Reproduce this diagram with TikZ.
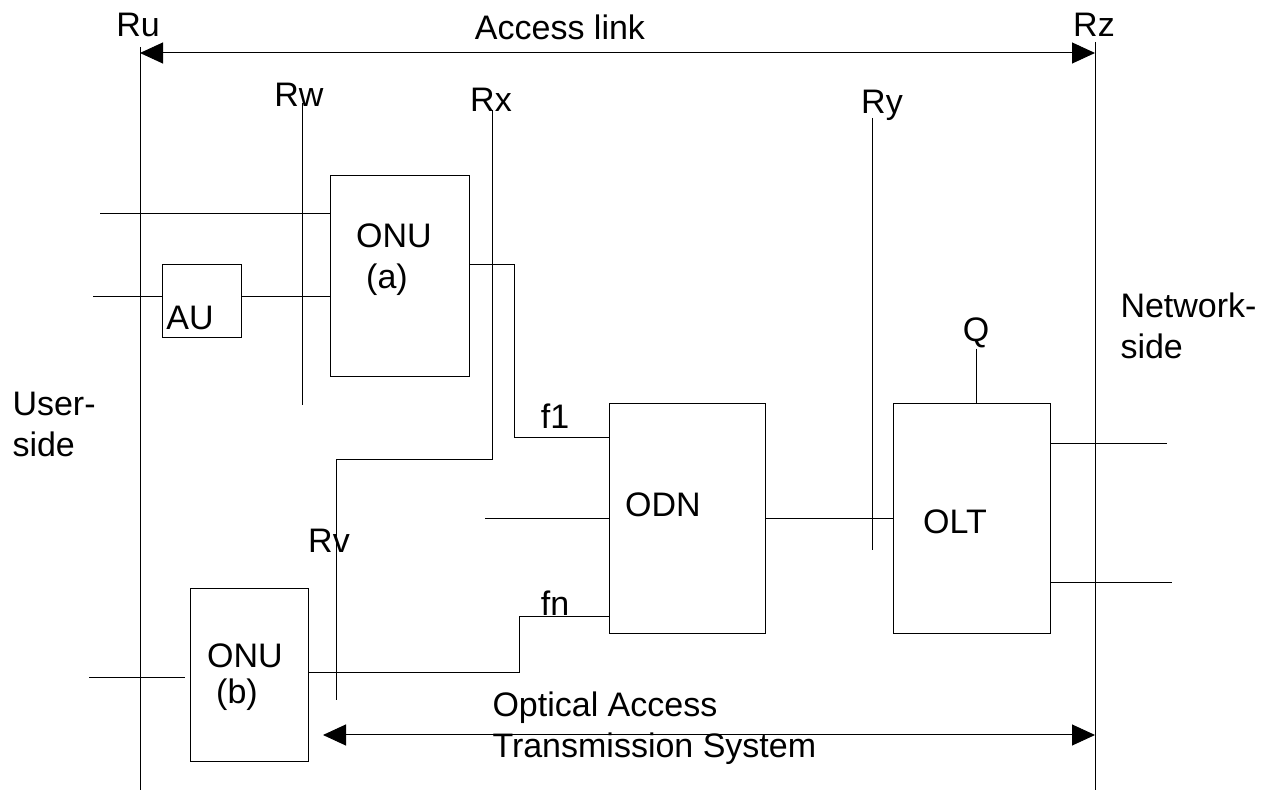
\documentclass[tikz,border=0pt]{standalone}
\usepackage{fontspec}
\setmainfont{Liberation Sans}
\usepackage{tikz}
\usetikzlibrary{arrows.meta,positioning,calc}

\begin{document}
\begin{tikzpicture}[x=0.5pt,y=-0.5pt,line width=0.5pt,
    blk/.style 2 args={draw,inner sep=0,minimum width=#1*0.5pt,minimum height=#2*0.5pt},
    lbl/.style={inner sep=0,font=\fontsize{17}{20.5}\selectfont},
    span/.style={arrows={Triangle[length=11.5pt,width=10.5pt]-Triangle[length=11.5pt,width=10.5pt]}}]
        \useasboundingbox (0,0) rectangle (1275,790);
        % blocks
        \node[blk={139}{201}] (onua) at (399.5,276.5) {};
        \node[blk={79}{73}] (au) at (201.5,301.5) {};
        \node[blk={156}{230}] (odn) at (687,519) {};
        \node[blk={157}{230}] (olt) at (971.5,519) {};
        \node[blk={118}{173}] (onub) at (249,675.5) {};
        \node[lbl] (onuatxt) at (394,236) {ONU};
        \node[lbl] (onuasub) at (387,280) {(a)};
        \node[lbl] (autxt) at (190,318) {AU};
        \node[lbl] (odntxt) at (663,505) {ODN};
        \node[lbl] (olttxt) at (955,522) {OLT};
        \node[lbl] (onubtxt) at (245,656) {ONU};
        \node[lbl] (onubsub) at (237,695) {(b)};
        % reference points
        \node[lbl] (ru) at (138,25) {Ru};
        \node[lbl] (rz) at (1094,25) {Rz};
        \node[lbl] (acclink) at (560,27) {Access link};
        \node[lbl] (rw) at (299,95) {Rw};
        \node[lbl] (rx) at (491,100) {Rx};
        \node[lbl] (ry) at (882,105) {Ry};
        \node[lbl] (rv) at (329,541) {Rv};
        \node[lbl] (q) at (976,333) {Q};
        \node[lbl] (f1) at (555,416) {f1};
        \node[lbl] (fn) at (555,603) {fn};
        \node[lbl,align=left,anchor=west] (netside) at (1120,326) {Network-\\side};
        \node[lbl,align=left,anchor=west] (userside) at (12,424) {User-\\side};
        \node[lbl,align=left,anchor=west] (oats) at (492,728) {Optical Access\\Transmission System};
        \coordinate (rutop) at (140,47);
        \coordinate (rubot) at (140,790);
        \coordinate (rztop) at (1095,42);
        \coordinate (rzbot) at (1095,790);
        \coordinate (rwtop) at (302,103);
        \coordinate (rwbot) at (302,405);
        \coordinate (rxtop) at (492,110);
        \coordinate (rvbend) at (336,460);
        \coordinate (rvbot) at (336,700);
        \coordinate (rytop) at (872,118);
        \coordinate (rybot) at (872,550);
        \draw (rutop) -- (rubot);
        \draw (rztop) -- (rzbot);
        \draw (rwtop) -- (rwbot);
        \draw (rxtop) |- (rvbend) -- (rvbot);
        \draw (rytop) -- (rybot);
        % spans
        \coordinate (acc) at (140,53);
        \draw[span] (acc) -- (acc -| rzbot);
        \coordinate (oatsl) at (323,735);
        \draw[span] (oatsl) -- (oatsl -| rzbot);
        % user side lines
        \coordinate (ina) at (100,214);
        \coordinate (inau) at (93,297);
        \coordinate (inb) at (89,678);
        \draw (ina) -- (ina -| onua.west);
        \draw (inau) -- (inau -| au.west);
        \draw (au.east |- inau) -- (onua.west |- inau);
        \draw (inb) -- ([xshift=-2.5pt]inb -| onub.west);
        % fibres
        \draw ([yshift=5.75pt]onua.east) -- ++(45,0) |- ([yshift=40.5pt]odn.west);
        \draw ([yshift=1.5pt]onub.east) -- ++(211,0) |- ([yshift=-49pt]odn.west);
        \coordinate (inodn) at (485,519);
        \draw (inodn) -- (odn.west);
        \draw (odn.east) -- (olt.west);
        % network side
        \draw (q.south) -- (q.south |- olt.north);
        \coordinate (outa) at (1167,444);
        \coordinate (outb) at (1172,583);
        \draw (olt.east |- outa) -- (outa);
        \draw (olt.east |- outb) -- (outb);
\end{tikzpicture}
\end{document}
